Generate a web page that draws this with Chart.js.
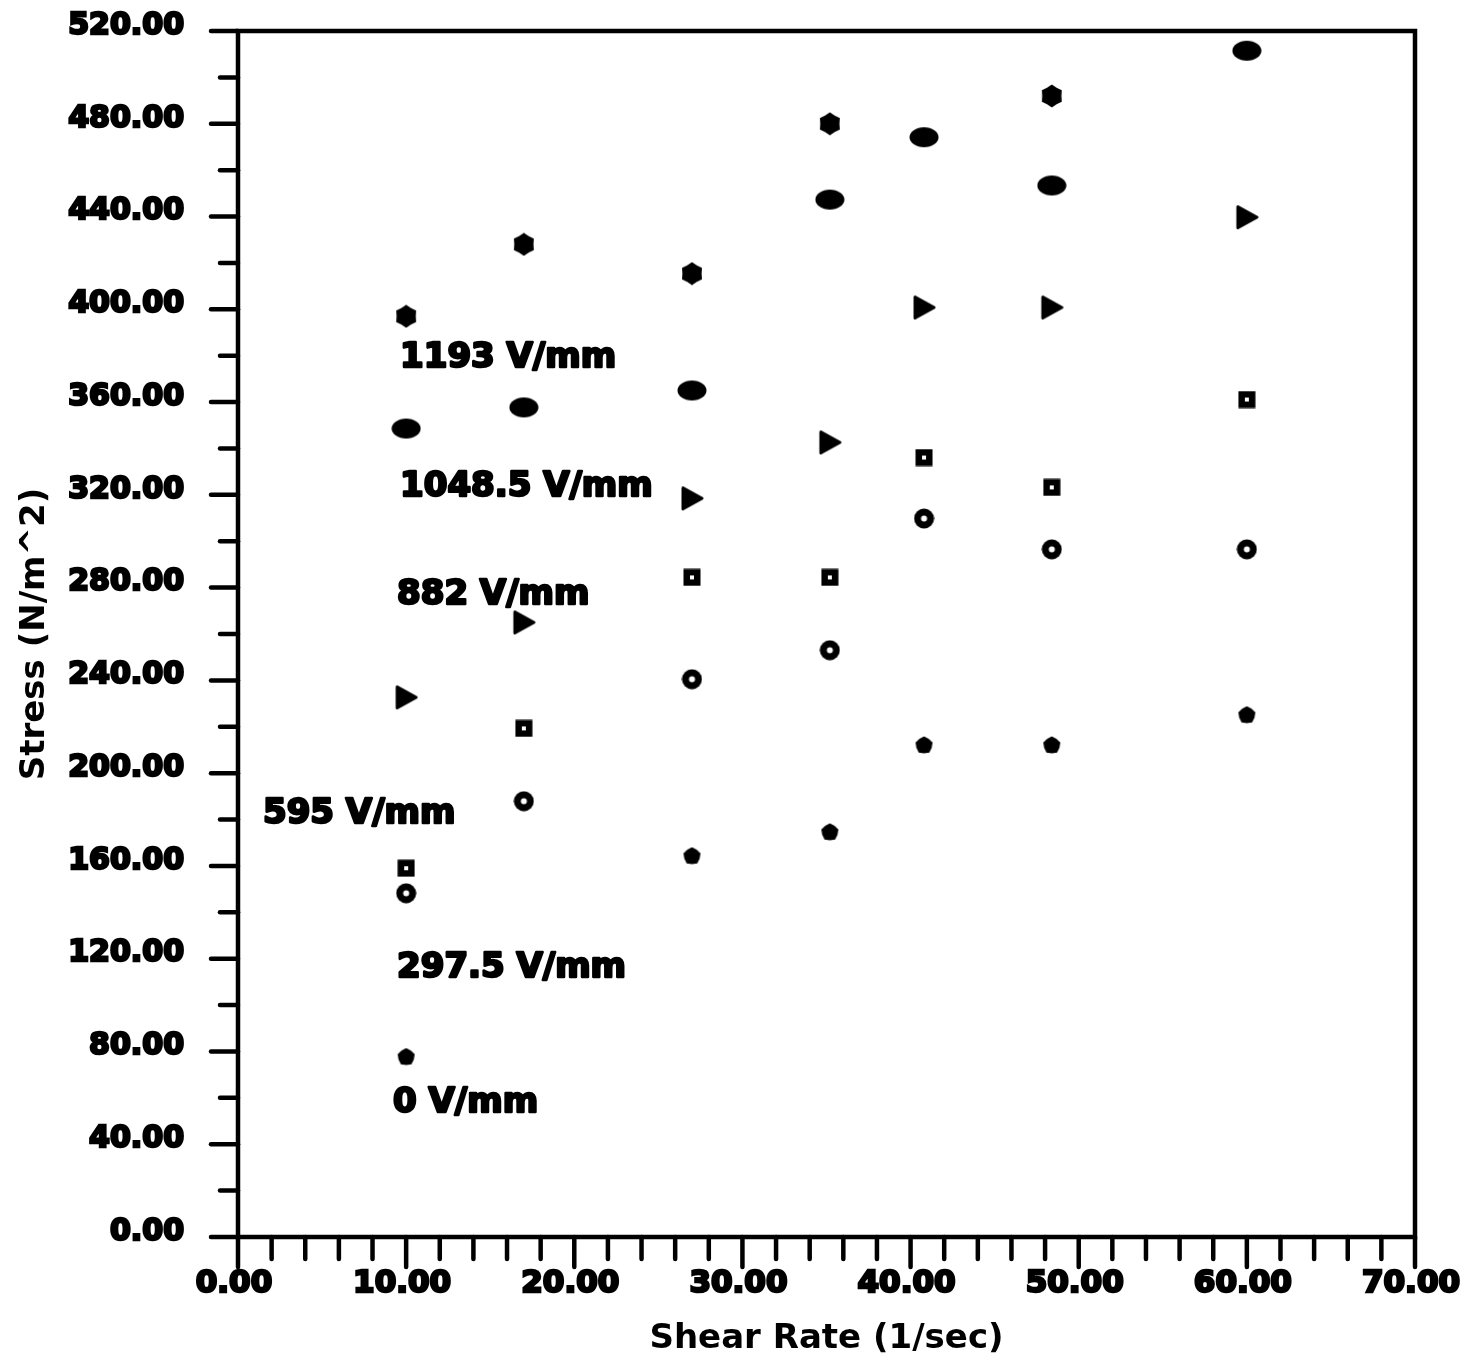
<!DOCTYPE html>
<html>
<head>
<meta charset="utf-8">
<script src="https://cdn.jsdelivr.net/npm/chart.js@4/dist/chart.umd.min.js"></script>
<style>
  html, body { margin: 0; padding: 0; background: #fff; }
  canvas { display: block; }
</style>
</head>
<body>
<canvas id="chart" width="1466" height="1369"></canvas>
<script>
// Shear rate (1/sec) at which each stress reading was taken
const shearRate = [10, 17, 27, 35.2, 40.8, 48.4, 60];

// Shear stress (N/m^2) per applied field strength; null = no reading
const stress1193 = [397, 428, 415.4, 480, null, 492, null];
const stress1048 = [348.6, 357.7, 365, 447.3, 474.2, 453.4, 511.5];
const stress882  = [232.7, 265, 318.5, 342.6, 400.8, 400.8, 439.7];
const stress595  = [159, 219.3, 284.4, 284.4, 336.1, 323.2, 361.1];
const stress297  = [148.2, 187.9, 240.5, 253, 309.8, 296.5, 296.5];
const stress0    = [77.6, null, 164.2, 174.5, 212, 212, 225];

// Field-strength labels written beside the point groups
const fieldLabels = ['1193 V/mm', '1048.5 V/mm', '882 V/mm', '595 V/mm', '297.5 V/mm', '0 V/mm'];
// Where each label sits, in data units (left edge, vertical middle)
const fieldLabelAnchors = [
  { x: 9.64, y: 378.8 },
  { x: 9.64, y: 323.2 },
  { x: 9.46, y: 276.7 },
  { x: 1.49, y: 182.3 },
  { x: 9.46, y: 115.9 },
  { x: 9.22, y: 57.7 }
];

const xAxisTitle = 'Shear Rate (1/sec)';
const yAxisTitle = 'Stress (N/m^2)';

const FONT = "'DejaVu Sans', 'Liberation Sans', sans-serif";

function toPoints(values) {
  const pts = [];
  values.forEach((v, i) => { if (v !== null) pts.push({ x: shearRate[i], y: v }); });
  return pts;
}

// Small canvases used as point markers
function marker(w, h, paint) {
  const c = document.createElement('canvas');
  c.width = w; c.height = h;
  const g = c.getContext('2d');
  g.fillStyle = '#000';
  g.strokeStyle = '#000';
  paint(g, w, h);
  return c;
}

function bumpy(g, cx, cy, rOut, rIn, n) {
  g.beginPath();
  for (let i = 0; i < n; i++) {
    const r = i % 2 === 0 ? rOut : rIn;
    const a = -Math.PI / 2 + i * Math.PI * 2 / n;
    const px = cx + r * Math.cos(a), py = cy + r * Math.sin(a);
    if (i === 0) g.moveTo(px, py); else g.lineTo(px, py);
  }
  g.closePath();
  g.fill();
}

const blobMarker = marker(24, 24, (g) => bumpy(g, 12, 12, 11.5, 9.6, 12));

const ellipseMarker = marker(30, 22, (g) => {
  g.beginPath();
  g.ellipse(15, 11, 14.5, 10, 0, 0, Math.PI * 2);
  g.fill();
});

const triangleMarker = marker(24, 26, (g) => {
  g.lineJoin = 'round';
  g.lineWidth = 3;
  g.beginPath();
  g.moveTo(3, 2.5);
  g.lineTo(22, 13);
  g.lineTo(3, 23.5);
  g.closePath();
  g.fill();
  g.stroke();
});

const squareMarker = marker(18, 18, (g) => {
  g.fillRect(0.5, 0.5, 17, 17);
  g.fillStyle = '#fff';
  g.fillRect(7, 7, 4, 4);
});

const ringMarker = marker(21, 21, (g) => {
  g.beginPath();
  g.arc(10.5, 10.5, 10, 0, Math.PI * 2);
  g.fill();
  g.fillStyle = '#fff';
  g.beginPath();
  g.arc(10.5, 10.5, 3, 0, Math.PI * 2);
  g.fill();
});

const dotMarker = marker(19, 19, (g) => bumpy(g, 9.5, 9.5, 9, 8, 10));

function series(label, values, style) {
  return {
    label,
    data: toPoints(values),
    pointStyle: style,
    pointRadius: 12,
    pointHoverRadius: 12,
    showLine: false,
    borderColor: '#000',
    backgroundColor: '#000'
  };
}

// Box frame, major/minor tick marks and the field-strength captions
const framePlugin = {
  id: 'frame',
  afterDatasetsDraw(chart) {
    const { ctx, chartArea: a, scales: { x, y } } = chart;
    ctx.save();
    ctx.strokeStyle = '#000';
    ctx.lineCap = 'round';

    // Frame
    ctx.lineWidth = 4.5;
    ctx.strokeRect(a.left, a.top, a.right - a.left, a.bottom - a.top);

    // Y ticks: major every 40, minor in between
    for (let v = 0; v <= 520; v += 20) {
      const py = y.getPixelForValue(v);
      const len = v % 40 === 0 ? 27 : 18;
      ctx.beginPath();
      ctx.moveTo(a.left - len, py);
      ctx.lineTo(a.left, py);
      ctx.stroke();
    }
    // X ticks: major every 10, minor every 2
    for (let v = 0; v <= 70; v += 2) {
      const px = x.getPixelForValue(v);
      const len = v % 10 === 0 ? 30 : 22;
      ctx.beginPath();
      ctx.moveTo(px, a.bottom);
      ctx.lineTo(px, a.bottom + len);
      ctx.stroke();
    }

    // Captions, drawn heavy
    ctx.fillStyle = '#000';
    ctx.font = 'bold 34px ' + FONT;
    ctx.textAlign = 'left';
    ctx.textBaseline = 'middle';
    ctx.lineWidth = 2.5;
    ctx.lineJoin = 'round';
    fieldLabels.forEach((t, i) => {
      const p = fieldLabelAnchors[i];
      const px = x.getPixelForValue(p.x), py = y.getPixelForValue(p.y);
      ctx.strokeText(t, px, py);
      ctx.fillText(t, px, py);
    });
    ctx.restore();
  }
};

const tickFont = (size) => ({ family: FONT, size, weight: 'bold' });

new Chart(document.getElementById('chart'), {
  type: 'scatter',
  data: {
    datasets: [
      series('1193 V/mm', stress1193, blobMarker),
      series('1048.5 V/mm', stress1048, ellipseMarker),
      series('882 V/mm', stress882, triangleMarker),
      series('595 V/mm', stress595, squareMarker),
      series('297.5 V/mm', stress297, ringMarker),
      series('0 V/mm', stress0, dotMarker)
    ]
  },
  options: {
    responsive: false,
    animation: false,
    events: [],
    layout: { padding: { top: 31, right: 51, left: 0, bottom: 0 } },
    plugins: {
      legend: { display: false },
      tooltip: { enabled: false }
    },
    scales: {
      x: {
        type: 'linear',
        min: 0,
        max: 70,
        grid: { display: false, drawTicks: false, tickLength: 0 },
        border: { display: false },
        ticks: {
          stepSize: 10,
          padding: 28,
          labelOffset: -4,
          maxRotation: 0,
          color: '#000',
          textStrokeColor: '#000',
          textStrokeWidth: 2.5,
          font: tickFont(31),
          callback: (v) => Number(v).toFixed(2)
        },
        title: {
          display: true,
          text: xAxisTitle,
          color: '#000',
          font: tickFont(34),
          padding: { top: 0, bottom: 9 }
        },
        afterFit: (s) => {
          s.height = 132;
          s.paddingLeft = 0;
          s.paddingRight = 0;
        }
      },
      y: {
        type: 'linear',
        min: 0,
        max: 520,
        grid: { display: false, drawTicks: false, tickLength: 0 },
        border: { display: false },
        ticks: {
          stepSize: 40,
          padding: 54,
          labelOffset: -5,
          color: '#000',
          textStrokeColor: '#000',
          textStrokeWidth: 2.5,
          font: tickFont(30),
          callback: (v) => Number(v).toFixed(2)
        },
        title: {
          display: true,
          text: yAxisTitle,
          color: '#000',
          font: tickFont(34),
          padding: { top: 15, bottom: 0 }
        },
        afterFit: (s) => {
          s.width = 238;
          s.paddingTop = 0;
          s.paddingBottom = 0;
        }
      }
    }
  },
  plugins: [framePlugin]
});
</script>
</body>
</html>
